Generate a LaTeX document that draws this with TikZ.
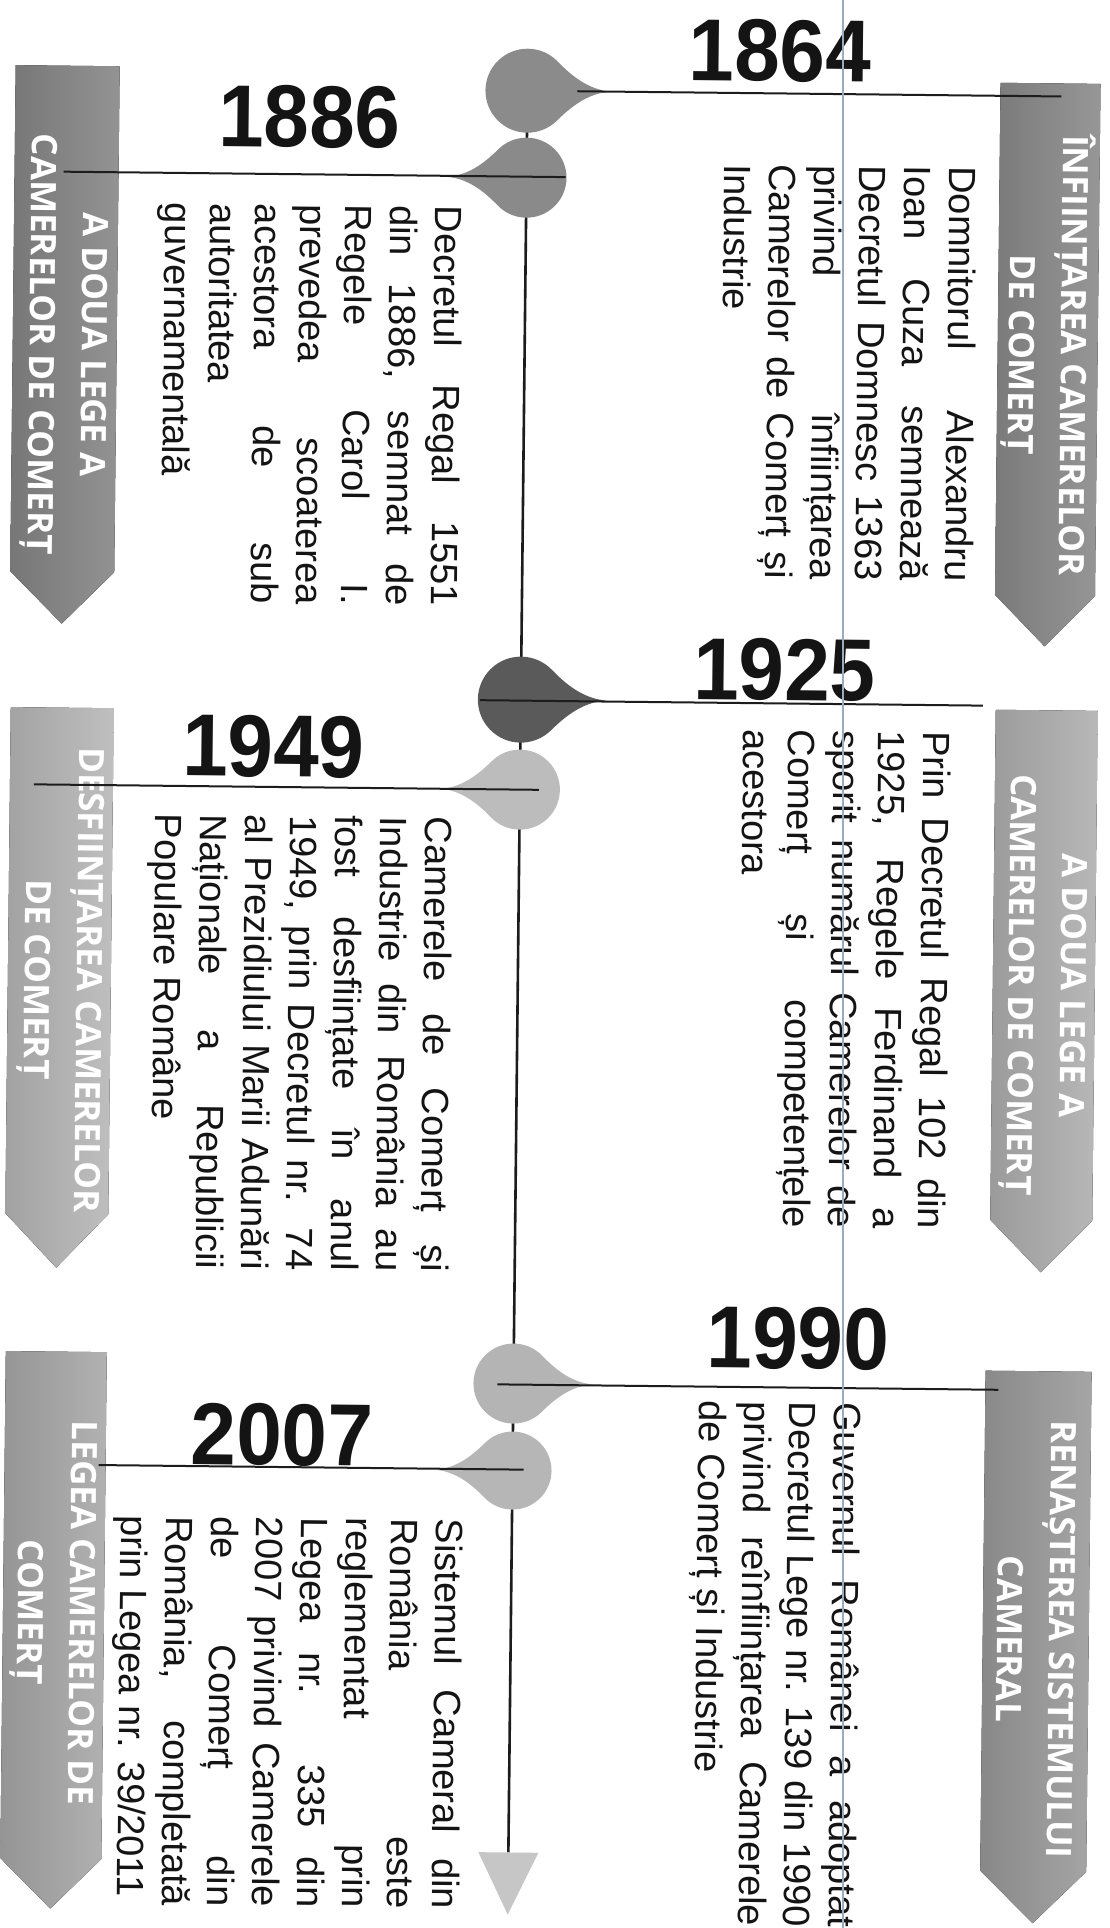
\documentclass[tikz,border=0pt]{standalone}
\usepackage{fontspec}
\setmainfont{Liberation Sans}
\newfontfamily\bannerfont{Open Sans}
\definecolor{ink}{HTML}{1C1C1C}
\definecolor{bA}{HTML}{8B8B8B}
\definecolor{bB}{HTML}{878787}
\definecolor{bC}{HTML}{B0B0B0}
\definecolor{bD}{HTML}{B8B8B8}
\definecolor{bE}{HTML}{9B9B9B}
\definecolor{bF}{HTML}{A9A9A9}
\definecolor{dA}{HTML}{8B8B8B}
\definecolor{dB}{HTML}{8A8A8A}
\definecolor{dC}{HTML}{5A5A5A}
\definecolor{dD}{HTML}{BCBCBC}
\definecolor{dE}{HTML}{B4B4B4}
\definecolor{dF}{HTML}{B6B6B6}
\definecolor{arrowgray}{HTML}{C6C6C6}
\definecolor{scanblue}{RGB}{155,170,190}
\newcommand\jl[2]{\makebox[#1][s]{#2}\\}
\newcommand\mydrop[5]{%
  \begin{scope}[shift={(#1,#2)}, xscale=#4*#3, yscale=#3]
    \fill[#5] (2,0) .. controls (1.4,0.03) and (0.955,0.46) .. (45:1)
      arc[start angle=45, end angle=315, radius=1]
      .. controls (0.955,-0.46) and (1.4,-0.03) .. (2,0) -- cycle;
  \end{scope}}
\newcommand\mybanner[6]{% x1 x2 top shoulder tip color
  \fill[left color=#6!88!black, right color=#6!90!white]
    (#1,#3) -- (#2,#3) -- (#2,#4) -- ({(#1+#2)/2},#5) -- (#1,#4) -- cycle;}
\tikzset{
  body/.style={rotate=-90.62, anchor=north west, inner sep=0pt, align=left,
    font=\fontsize{38}{45}\selectfont, text=black!92},
  year/.style={rotate=-0.62, anchor=base west, inner sep=0pt,
    font=\fontsize{88}{88}\selectfont\bfseries, xscale=0.93, text=black!92},
  bantext/.style={rotate=-90.62, align=center, inner sep=0pt,
    font=\bannerfont\bfseries\fontsize{35}{52}\selectfont, text=white},
  evline/.style={draw=ink, line width=2pt},
  mainline/.style={draw=ink, line width=2.6pt},
  scanline/.style={draw=scanblue, line width=1.4pt},
}
\begin{document}
\begin{tikzpicture}[x=1pt, y=-1pt]
\fill[white] (0,0) rectangle (1110,1928);
\useasboundingbox (0,0) rectangle (1110,1928);
\begin{scope}[rotate around={-0.62:(555,964)}]
  % banners
  \mybanner{991}{1091}{78}{590}{641}{bA}
  \mybanner{6}{110}{71}{577}{629}{bB}
  \mybanner{993}{1095}{705}{1215}{1267}{bC}
  \mybanner{8}{111}{713}{1219}{1273}{bD}
  \mybanner{990}{1096}{1366}{1866}{1918}{bE}
  \mybanner{10}{111}{1357}{1864}{1914}{bF}
  \node[bantext] (bt1864) at (1041,350) {ÎNFIINȚAREA CAMERELOR\\DE COMERȚ};
  \node[bantext] (bt1886) at (58,350) {A DOUA LEGE A\\CAMERELOR DE COMERȚ};
  \node[bantext] (bt1925) at (1044,980) {A DOUA LEGE A\\CAMERELOR DE COMERȚ};
  \node[bantext] (bt1949) at (60,985) {DESFIINȚAREA CAMERELOR\\DE COMERȚ};
  \node[bantext] (bt1990) at (1043,1634) {RENAȘTEREA SISTEMULUI\\CAMERAL};
  \node[bantext] (bt2007) at (60,1618) {LEGEA CAMERELOR DE\\COMERȚ};
  % main line
  \coordinate (top) at (518,91);
  \coordinate (arrowtop) at (518,1853);
  \draw[mainline] (top) -- (arrowtop);
  \coordinate (arrowl) at (488,1853);
  \coordinate (arrowr) at (548,1853);
  \coordinate (arrowtip) at (518,1915);
  \fill[arrowgray] (arrowl) -- (arrowr) -- (arrowtip) -- cycle;
  % drops
  \mydrop{518}{91}{42}{1}{dA}
  \mydrop{518}{178}{40}{-1}{dB}
  \mydrop{518}{700}{43}{1}{dC}
  \mydrop{518}{790}{40}{-1}{dD}
  \mydrop{518}{1384}{40}{1}{dE}
  \mydrop{518}{1471}{39}{-1}{dF}
  % event lines
  \coordinate (a1864) at (568,91);   \coordinate (b1864) at (1052,91);
  \coordinate (a1886) at (557,177);  \coordinate (b1886) at (55,177);
  \coordinate (a1925) at (477,701);  \coordinate (b1925) at (980,701);
  \coordinate (a1949) at (537,790);  \coordinate (b1949) at (32,790);
  \coordinate (a1990) at (502,1385); \coordinate (b1990) at (1003,1385);
  \coordinate (a2007) at (529,1470); \coordinate (b2007) at (104,1470);
  \draw[evline] (a1864) -- (b1864);
  \draw[evline] (a1886) -- (b1886);
  \draw[evline] (a1925) -- (b1925);
  \draw[evline] (a1949) -- (b1949);
  \draw[evline] (a1990) -- (b1990);
  \draw[evline] (a2007) -- (b2007);
  % years
  \node[year] (y1864) at (679,79) {1864};
  \node[year] (y1886) at (209,150) {1886};
  \node[year] (y1925) at (690,698) {1925};
  \node[year] (y1949) at (180,780) {1949};
  \node[year] (y1990) at (711,1366) {1990};
  \node[year] (y2007) at (196,1468) {2007};
  % texts
  \node[body] (t1864) at (969,162) {%
    \jl{415pt}{Domnitorul Alexandru}
    \jl{415pt}{Ioan Cuza semnează}
    \jl{415pt}{Decretul Domnesc 1363}
    \jl{415pt}{privind înființarea}
    \jl{415pt}{Camerelor de Comerț și}
    Industrie};
  \node[body] (t1886) at (455,207) {%
    \jl{400pt}{Decretul Regal 1551}
    \jl{400pt}{din 1886, semnat de}
    \jl{400pt}{Regele Carol I.}
    \jl{400pt}{prevedea scoaterea}
    \jl{400pt}{acestora de sub}
    autoritatea\\
    guvernamentală};
  \node[body] (t1925) at (949,727) {%
    \jl{498pt}{Prin Decretul Regal 102 din}
    \jl{498pt}{1925, Regele Ferdinand a}
    \jl{498pt}{sporit numărul Camerelor de}
    \jl{498pt}{Comerț și competențele}
    acestora};
  \node[body] (t1949) at (452,818) {%
    \jl{455pt}{Camerele de Comerț și}
    \jl{455pt}{Industrie din România au}
    \jl{455pt}{fost desființate în anul}
    \jl{455pt}{1949, prin Decretul nr. 74}
    \jl{455pt}{al Prezidiului Marii Adunări}
    \jl{455pt}{Naționale a Republicii}
    Populare Române};
  \node[body] (t1990) at (867,1399) {%
    \jl{525pt}{Guvernul Românei a adoptat}
    \jl{525pt}{Decretul Lege nr. 139 din 1990}
    \jl{525pt}{privind reînființarea Camerele}
    de Comerț și Industrie};
  \node[body] (t2007) at (470,1520) {%
    \jl{390pt}{Sistemul Cameral din}
    \jl{390pt}{România este}
    \jl{390pt}{reglementat prin}
    \jl{390pt}{Legea nr. 335 din}
    \jl{390pt}{2007 privind Camerele}
    \jl{390pt}{de Comerț din}
    \jl{390pt}{România, completată}
    prin Legea nr. 39/2011};
\end{scope}
\coordinate (scantop) at (843,0);
\coordinate (scanbot) at (843,1928);
\draw[scanline] (scantop) -- (scanbot);
\end{tikzpicture}
\end{document}
